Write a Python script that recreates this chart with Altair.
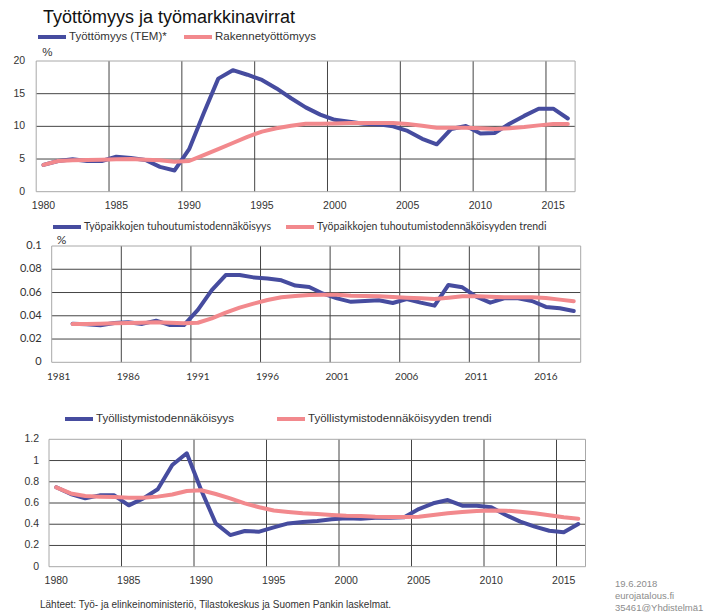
import altair as alt
import pandas as pd

BLUE = "#464c9f"
PINK = "#f2898d"
GRID = "#454545"
BORDER = "#a8a8a8"
TXT = "#333333"
ARIAL = "Liberation Sans"
CALIBRI = "Lato"

# ---------------- data ----------------
years_a = list(range(1980, 2017))
unemployment = [4.1, 4.7, 4.95, 4.7, 4.7, 5.35, 5.15, 4.85, 3.8, 3.25,
                6.5, 12.0, 17.3, 18.6, 17.9, 17.1, 15.8, 14.3, 12.9, 11.8,
                11.0, 10.7, 10.4, 10.3, 10.0, 9.3, 8.1, 7.25, 9.6, 10.05,
                8.9, 9.0, 10.4, 11.6, 12.7, 12.7, 11.2]
structural = [4.1, 4.7, 4.8, 4.85, 4.9, 4.95, 5.0, 4.9, 4.8, 4.6,
              4.7, 5.6, 6.5, 7.45, 8.4, 9.2, 9.7, 10.1, 10.4, 10.4,
              10.45, 10.5, 10.5, 10.5, 10.5, 10.35, 10.1, 9.8, 9.8, 9.8,
              9.7, 9.6, 9.7, 9.9, 10.15, 10.35, 10.35]

years_b = list(range(1982, 2019))
destruction = [0.0332, 0.0327, 0.0318, 0.0338, 0.0344, 0.033, 0.0358, 0.032, 0.032, 0.045,
               0.062, 0.075, 0.075, 0.073, 0.072, 0.0705, 0.066, 0.0648, 0.059, 0.055,
               0.052, 0.0527, 0.0533, 0.051, 0.0544, 0.0513, 0.0487, 0.0665, 0.0645, 0.0564,
               0.0513, 0.055, 0.055, 0.0527, 0.0476, 0.0464, 0.0441]
destruction_trend = [0.033, 0.033, 0.0332, 0.0335, 0.0338, 0.034, 0.0344, 0.034, 0.0335, 0.034,
                     0.0378, 0.0427, 0.047, 0.0504, 0.0536, 0.0559, 0.057, 0.0579, 0.058, 0.058,
                     0.0573, 0.057, 0.0567, 0.0562, 0.0556, 0.055, 0.0544, 0.0556, 0.0567, 0.0567,
                     0.0564, 0.056, 0.056, 0.0559, 0.0553, 0.0539, 0.0524]

years_c = list(range(1980, 2017))
employment = [0.748, 0.685, 0.644, 0.672, 0.672, 0.578, 0.644, 0.729, 0.958, 1.068,
              0.72, 0.408, 0.298, 0.336, 0.33, 0.37, 0.408, 0.42, 0.43, 0.446,
              0.456, 0.452, 0.462, 0.462, 0.465, 0.543, 0.597, 0.628, 0.575, 0.575,
              0.56, 0.487, 0.424, 0.377, 0.339, 0.324, 0.402]
employment_trend = [0.748, 0.69, 0.666, 0.66, 0.657, 0.65, 0.65, 0.66, 0.68, 0.713,
                    0.72, 0.685, 0.644, 0.597, 0.56, 0.53, 0.515, 0.503, 0.496, 0.487,
                    0.48, 0.478, 0.471, 0.468, 0.468, 0.471, 0.487, 0.503, 0.515, 0.525,
                    0.53, 0.528, 0.518, 0.503, 0.484, 0.465, 0.452]

names_a = ["Työttömyys (TEM)*", "Rakennetyöttömyys"]
names_b = ["Työpaikkojen tuhoutumistodennäköisyys", "Työpaikkojen tuhoutumistodennäköisyyden trendi"]
names_c = ["Työllistymistodennäköisyys", "Työllistymistodennäköisyyden trendi"]

xticks_a = [1980, 1985, 1990, 1995, 2000, 2005, 2010, 2015]
xticks_b = [1981, 1986, 1991, 1996, 2001, 2006, 2011, 2016]
xticks_c = [1980, 1985, 1990, 1995, 2000, 2005, 2010, 2015]
yticks_a = [0, 5, 10, 15, 20]
ylabels_a = ["0", "5", "10", "15", "20"]
yticks_b = [0, 0.02, 0.04, 0.06, 0.08, 0.1]
ylabels_b = ["0", "0.02", "0.04", "0.06", "0.08", "0.1"]
yticks_c = [0, 0.2, 0.4, 0.6, 0.8, 1.0, 1.2]
ylabels_c = ["0", "0.2", "0.4", "0.6", "0.8", "1", "1.2"]

title_text = "Työttömyys ja työmarkkinavirrat"
source_text = "Lähteet: Työ- ja elinkeinoministeriö, Tilastokeskus ja Suomen Pankin laskelmat."
stamp_text = ["19.6.2018", "eurojatalous.fi", "35461@Yhdistelmä1"]


def panel(years, s1, s2, names, xdom, ydom, xrange, yrange, xticks, yticks, ylabels,
          font, yfs, xfs, ylab_dx, xlab_dy, legend, pct):
    xs = alt.Scale(domain=xdom, range=xrange, nice=False, zero=False)
    ys = alt.Scale(domain=ydom, range=yrange, nice=False, zero=False)

    def X(f):
        return alt.X(f, scale=xs, axis=None)

    def Y(f):
        return alt.Y(f, scale=ys, axis=None)

    n = len(years)
    df = pd.DataFrame({
        "pos": [y + 0.5 for y in years] * 2,
        "value": list(s1) + list(s2),
        "series": [names[0]] * n + [names[1]] * n,
    })
    vg = pd.DataFrame({"x": [t for t in xticks if t > xdom[0]], "y0": ydom[0], "y1": ydom[1]})
    hg = pd.DataFrame({"y": [t for t in yticks if ydom[0] < t < ydom[1]], "x0": xdom[0], "x1": xdom[1]})
    box = pd.DataFrame({"x0": [xdom[0]], "x1": [xdom[1]], "y0": [ydom[0]], "y1": [ydom[1]]})
    yl = pd.DataFrame({"v": yticks, "label": ylabels, "x0": xdom[0]})
    xl = pd.DataFrame({"pos": [t + 0.5 for t in xticks], "label": [str(t) for t in xticks], "y0": ydom[0]})

    layers = []
    layers.append(alt.Chart(hg).mark_rule(color=GRID, strokeWidth=1).encode(
        x=X("x0:Q"), x2="x1:Q", y=Y("y:Q")))
    layers.append(alt.Chart(vg).mark_rule(color=GRID, strokeWidth=1).encode(
        x=X("x:Q"), y=Y("y0:Q"), y2="y1:Q"))
    layers.append(alt.Chart(box).mark_rect(fillOpacity=0, stroke=BORDER, strokeWidth=1).encode(
        x=X("x0:Q"), x2="x1:Q", y=Y("y0:Q"), y2="y1:Q"))
    layers.append(alt.Chart(yl).mark_text(align="right", baseline="middle", dx=ylab_dx,
                                          font=font, fontSize=yfs, color=TXT).encode(
        x=X("x0:Q"), y=Y("v:Q"), text="label:N"))
    layers.append(alt.Chart(xl).mark_text(align="center", baseline="middle", dy=xlab_dy,
                                          font=font, fontSize=xfs, color=TXT).encode(
        x=X("pos:Q"), y=Y("y0:Q"), text="label:N"))
    if pct:
        pdf = pd.DataFrame({"x0": [xdom[0]], "y1": [ydom[1]], "t": ["%"]})
        layers.append(alt.Chart(pdf).mark_text(align="left", baseline="middle", dx=pct[0], dy=pct[1],
                                               font=font, fontSize=yfs + 1, color=TXT).encode(
            x=X("x0:Q"), y=Y("y1:Q"), text="t:N"))
    layers.append(alt.Chart(df).mark_line(strokeWidth=4, strokeCap="round", strokeJoin="round").encode(
        x=X("pos:Q"), y=Y("value:Q"),
        color=alt.Color("series:N", scale=alt.Scale(domain=names, range=[BLUE, PINK]), legend=legend)))
    return layers


def make_legend(lx, ly, font, fs, cpad):
    return alt.Legend(title=None, orient="none", legendX=lx, legendY=ly, direction="horizontal",
                      symbolType="stroke", symbolSize=784, symbolStrokeWidth=4,
                      labelFont=font, labelFontSize=fs, labelColor=TXT, labelOffset=1,
                      columnPadding=cpad, padding=0, labelLimit=600)


layers = []
layers += panel(years_a, unemployment, structural, names_a, [1980, 2017], [0, 20],
                [28.2, 567.1], [183.7, 53], xticks_a, yticks_a, ylabels_a,
                ARIAL, 10.5, 10.5, -11, 14, make_legend(28, 13, ARIAL, 11.5, 9), (6, -8))
layers += panel(years_b, destruction, destruction_trend, names_b, [1981, 2019], [0, 0.1],
                [43.7, 572.7], [354.3, 238], xticks_b, yticks_b, ylabels_b,
                CALIBRI, 11, 10, -10, 15, make_legend(43, 203, CALIBRI, 10.5, 7), (5, -6))
layers += panel(years_c, employment, employment_trend, names_c, [1980, 2017], [0, 1.2],
                [41, 577.5], [558.7, 431.3], xticks_c, yticks_c, ylabels_c,
                ARIAL, 10.5, 10.5, -10, 14, make_legend(55, 395, ARIAL, 11.5, 34), None)

ann = pd.DataFrame({"t": [title_text]})
layers.append(alt.Chart(ann).mark_text(align="left", baseline="alphabetic", font=ARIAL, fontSize=18,
                                       color="#111111").encode(
    x=alt.value(35), y=alt.value(15), text="t:N"))
src = pd.DataFrame({"t": [source_text]})
layers.append(alt.Chart(src).mark_text(align="left", baseline="middle", font=ARIAL, fontSize=10,
                                       color=TXT).encode(
    x=alt.value(32), y=alt.value(597), text="t:N"))
stamp = pd.DataFrame({"t": [stamp_text]})
layers.append(alt.Chart(stamp).mark_text(align="left", baseline="middle", font=ARIAL, fontSize=9.5,
                                         lineHeight=12, color="#8c8c8c").encode(
    x=alt.value(607), y=alt.value(576), text="t"))

chart = alt.layer(*layers).resolve_scale(
    x="independent", y="independent", color="independent"
).properties(
    width=698, height=606, padding=0, autosize="none"
).configure_view(stroke=None)

chart.save("out.html", embed_options={"renderer": "svg", "actions": False})
